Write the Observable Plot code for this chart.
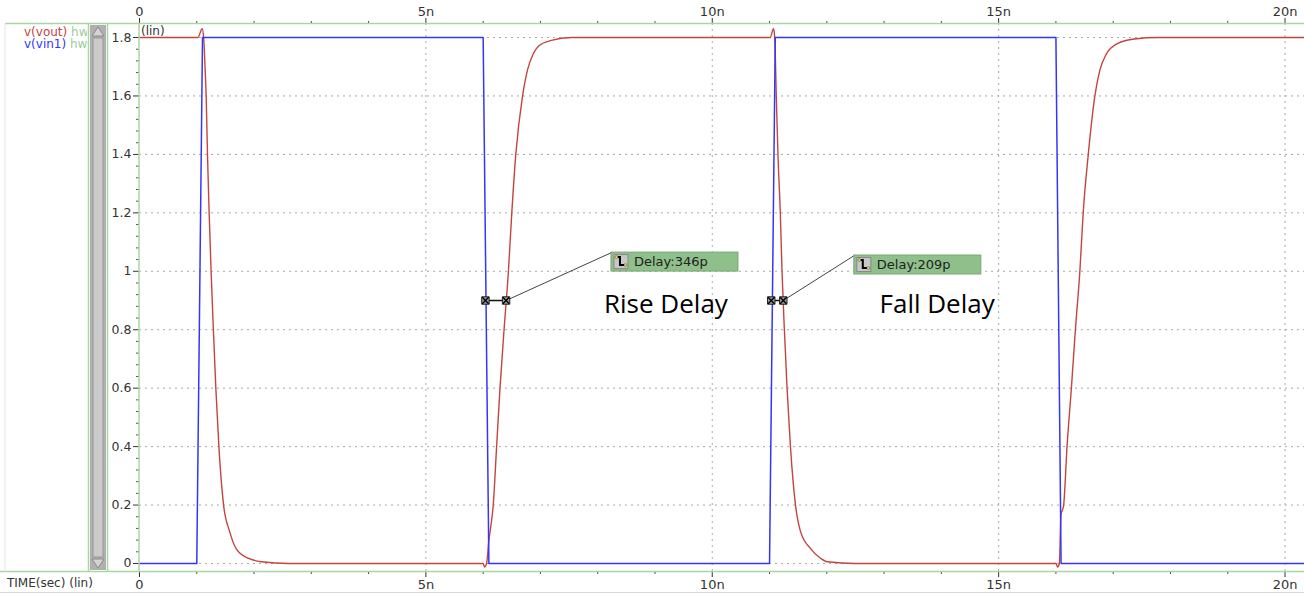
<!DOCTYPE html>
<html><head><meta charset="utf-8">
<script src="https://cdn.jsdelivr.net/npm/d3@7"></script>
<script src="https://cdn.jsdelivr.net/npm/@observablehq/plot@0.6"></script>
<style>
html,body{margin:0;padding:0;background:#fff;}
#chart{width:1304px;height:594px;overflow:hidden;position:relative;}
</style></head><body><div id="chart"></div>
<script>
// ---- data (time in ns, voltage in V) ----
const vinT = [0, 1.0, 1.1, 6.0, 6.1, 11.0, 11.1, 16.0, 16.09, 20.34];
const vinV = [0, 0, 1.8, 1.8, 0, 0, 1.8, 1.8, 0, 0];

const voutT = [0, 1.02, 1.094, 1.12, 1.146, 1.164, 1.187, 1.216, 1.25, 1.29, 1.333, 1.386, 1.468, 1.573, 1.69, 1.895, 2.13, 2.6,
  6.0, 6.024, 6.06, 6.10, 6.129, 6.176, 6.235, 6.294, 6.365, 6.441, 6.50, 6.57, 6.688, 6.776, 6.865, 6.98, 7.19, 7.54,
  11.01, 11.07, 11.09, 11.118, 11.147, 11.188, 11.218, 11.259, 11.306, 11.365, 11.453, 11.54, 11.72, 11.89, 12.01, 12.5,
  16.0, 16.03, 16.06, 16.088, 16.135, 16.194, 16.27, 16.34, 16.418, 16.476, 16.565, 16.68, 16.77, 16.87, 17.08, 17.37, 17.78, 20.34];
const voutV = [1.8, 1.8, 1.83, 1.8, 1.69, 1.60, 1.40, 1.20, 1.00, 0.80, 0.60, 0.40, 0.20, 0.11, 0.05, 0.018, 0.006, 0,
  0, -0.012, 0, 0.08, 0.12, 0.20, 0.40, 0.60, 0.80, 1.00, 1.20, 1.40, 1.60, 1.69, 1.74, 1.773, 1.79, 1.8,
  1.8, 1.83, 1.80, 1.60, 1.40, 1.20, 1.00, 0.80, 0.60, 0.40, 0.20, 0.11, 0.05, 0.018, 0.006, 0,
  0, -0.012, 0, 0.165, 0.20, 0.40, 0.60, 0.80, 1.00, 1.20, 1.40, 1.60, 1.69, 1.74, 1.78, 1.795, 1.8, 1.8];

const xMajorTicks = [0, 5, 10, 15, 20];
const xMajorLabels = ["0", "5n", "10n", "15n", "20n"];
const xMinorTicks = [1, 2, 3, 4, 6, 7, 8, 9, 11, 12, 13, 14, 16, 17, 18, 19];
const yMajorTicks = [0, 0.2, 0.4, 0.6, 0.8, 1, 1.2, 1.4, 1.6, 1.8];
const yMajorLabels = ["0", "0.2", "0.4", "0.6", "0.8", "1", "1.2", "1.4", "1.6", "1.8"];
const yMinorTicks = [0.04, 0.08, 0.12, 0.16, 0.24, 0.28, 0.32, 0.36, 0.44, 0.48, 0.52, 0.56, 0.64, 0.68, 0.72, 0.76,
  0.84, 0.88, 0.92, 0.96, 1.04, 1.08, 1.12, 1.16, 1.24, 1.28, 1.32, 1.36, 1.44, 1.48, 1.52, 1.56, 1.64, 1.68, 1.72, 1.76];

// delay measurements
const delayStartT = [6.04, 11.03];
const delayEndT = [6.40, 11.24];
const delayLevel = [0.9, 0.9];
const delayLabels = ["Delay:346p", "Delay:209p"];
const labelAnchorT = [8.24, 12.48];
const labelAnchorV = [1.064, 1.054];
const captions = ["Rise Delay", "Fall Delay"];
const captionT = [8.11, 12.92];
const captionV = [0.885, 0.885];

const seriesNames = ["v(vout)", "v(vin1)"];

// ---- tables ----
const vin = vinT.map((t, i) => ({t, v: vinV[i]}));
const vout = voutT.map((t, i) => ({t, v: voutV[i]}));
const delays = delayStartT.map((t, i) => ({t1: t, t2: delayEndT[i], v: delayLevel[i], lt: labelAnchorT[i], lv: labelAnchorV[i], label: delayLabels[i]}));
const markers = delays.flatMap(d => [{t: d.t1, v: d.v}, {t: d.t2, v: d.v}]);
const caps = captions.map((c, i) => ({t: captionT[i], v: captionV[i], text: c}));

const RED = "#c4453f", BLUE = "#3535fa", GREEN = "#a9d6a3", GRID = "#a8a8a8";
const fmtX = d => xMajorLabels[xMajorTicks.indexOf(d)];
const fmtY = d => yMajorLabels[yMajorTicks.indexOf(d)];

const chart = Plot.plot({
  width: 1304, height: 594,
  marginLeft: 139, marginRight: 0, marginTop: 23, marginBottom: 23,
  x: {domain: [0, 20.34]},
  y: {domain: [-0.0274, 1.848]},
  style: {fontFamily: "DejaVu Sans", fontSize: "12px", color: "#333", background: "#fff"},
  marks: [
    Plot.ruleY(yMajorTicks, {y: d => d, stroke: GRID, strokeDasharray: "2,4", strokeWidth: 1}),
    Plot.ruleX(xMajorTicks.slice(1), {x: d => d, stroke: GRID, strokeDasharray: "2,4", strokeWidth: 1}),
    Plot.axisX(xMajorTicks, {anchor: "top", tickSize: 6, tickPadding: 2, tickFormat: fmtX, fontSize: 13, stroke: "#333"}),
    Plot.axisX(xMinorTicks, {anchor: "top", tickSize: 3, tickFormat: () => "", stroke: "#444"}),
    Plot.axisX(xMajorTicks, {anchor: "bottom", tickSize: 6, tickPadding: 2, tickFormat: fmtX, fontSize: 13, stroke: "#333"}),
    Plot.axisX(xMinorTicks, {anchor: "bottom", tickSize: 3, tickFormat: () => "", stroke: "#444"}),
    Plot.axisY(yMajorTicks, {anchor: "left", tickSize: 6, tickPadding: 2, tickFormat: fmtY, fontSize: 12.5, stroke: "#333"}),
    Plot.axisY(yMinorTicks, {anchor: "left", tickSize: 3, tickFormat: () => "", stroke: "#555"}),
    Plot.line(vout, {x: "t", y: "v", stroke: RED, strokeWidth: 1.4, curve: "monotone-x"}),
    Plot.line(vin, {x: "t", y: "v", stroke: BLUE, strokeWidth: 1.5}),
    Plot.link(delays, {x1: "t2", y1: "v", x2: "lt", y2: "lv", stroke: "#444", strokeWidth: 1}),
    Plot.link(delays, {x1: "t1", y1: "v", x2: "t2", y2: "v", stroke: "#111", strokeWidth: 1.5}),
    Plot.dot(markers, {x: "t", y: "v", symbol: "square", r: 4.2, fill: "#9a9a9a", stroke: "#222", strokeWidth: 1}),
    Plot.dot(markers, {x: "t", y: "v", symbol: "times", r: 3, stroke: "#000", strokeWidth: 1.3}),
    Plot.text(caps, {x: "t", y: "v", text: "text", textAnchor: "start", fontSize: 26, fontFamily: "Open Sans", fill: "#000"})
  ]
});
document.getElementById("chart").appendChild(chart);

// ---- chrome & annotation boxes (using the plot's scales) ----
const svg = d3.select(chart);
const sx = chart.scale("x"), sy = chart.scale("y");

// delay label boxes
delays.forEach(d => {
  const x0 = sx.apply(d.lt), y0 = sy.apply(d.lv);
  const g = svg.append("g").attr("text-anchor", "start");
  g.append("rect").attr("x", x0).attr("y", y0).attr("width", 127).attr("height", 19)
    .attr("fill", "#8fbf8a").attr("stroke", "#78a874");
  g.append("rect").attr("x", x0 + 3).attr("y", y0 + 2.5).attr("width", 14).attr("height", 14)
    .attr("fill", "#c8c8c8").attr("stroke", "#888");
  g.append("path").attr("d", `M${x0 + 6},${y0 + 5} h3 v8 h5`).attr("fill", "none").attr("stroke", "#000").attr("stroke-width", 2);
  g.append("circle").attr("cx", x0 + 5.5).attr("cy", y0 + 5).attr("r", 1.5).attr("fill", "#e8d840").attr("stroke", "#555").attr("stroke-width", 0.5);
  g.append("circle").attr("cx", x0 + 14.5).attr("cy", y0 + 13).attr("r", 1.5).attr("fill", "#e8d840").attr("stroke", "#555").attr("stroke-width", 0.5);
  g.append("text").attr("x", x0 + 23).attr("y", y0 + 14).attr("font-size", 13).attr("text-anchor", "start")
    .attr("font-family", "DejaVu Sans").attr("fill", "#222").text(d.label);
});

// frame lines
const chrome = svg.append("g").attr("text-anchor", "start");
chrome.append("line").attr("x1", 5).attr("x2", 1304).attr("y1", 23.5).attr("y2", 23.5).attr("stroke", GREEN).attr("stroke-width", 1.5);
chrome.append("line").attr("x1", 0).attr("x2", 1304).attr("y1", 571.5).attr("y2", 571.5).attr("stroke", GREEN).attr("stroke-width", 1.5);
chrome.append("line").attr("x1", 0).attr("x2", 1304).attr("y1", 592.5).attr("y2", 592.5).attr("stroke", "#d8d8d8").attr("stroke-width", 1);
[88.5, 107.5, 139].forEach(x => chrome.append("line").attr("x1", x).attr("x2", x).attr("y1", 23).attr("y2", 572).attr("stroke", GREEN).attr("stroke-width", 1.5));
chrome.append("line").attr("x1", 5).attr("x2", 5).attr("y1", 23).attr("y2", 572).attr("stroke", "#e4e4e4").attr("stroke-width", 1);

// scrollbar
chrome.append("rect").attr("x", 90).attr("y", 25).attr("width", 16).attr("height", 545).attr("fill", "#b0b0b0");
chrome.append("rect").attr("x", 93).attr("y", 38).attr("width", 10).attr("height", 519).attr("fill", "#cacaca").attr("stroke", "#989898");
chrome.append("path").attr("d", "M98,27 L104,36 L92,36 Z").attr("fill", "#d4d4d4").attr("stroke", "#8a8a8a");
chrome.append("path").attr("d", "M98,568 L104,559 L92,559 Z").attr("fill", "#d4d4d4").attr("stroke", "#8a8a8a");

// legend (clipped at the scrollbar like the reference)
svg.append("defs").append("clipPath").attr("id", "legclip").append("rect").attr("x", 0).attr("y", 24).attr("width", 87).attr("height", 40);
const lg = chrome.append("g").attr("clip-path", "url(#legclip)").attr("font-family", "DejaVu Sans").attr("font-size", 12).attr("text-anchor", "start");
const t1 = lg.append("text").attr("x", 24).attr("y", 36).attr("text-anchor", "start");
t1.append("tspan").attr("fill", RED).text(seriesNames[0] + " ");
t1.append("tspan").attr("fill", "#9ccc96").text("hw");
const t2 = lg.append("text").attr("x", 24).attr("y", 48).attr("text-anchor", "start");
t2.append("tspan").attr("fill", BLUE).text(seriesNames[1] + " ");
t2.append("tspan").attr("fill", "#9ccc96").text("hw");

chrome.append("text").attr("x", 141).attr("y", 35).attr("text-anchor", "start").attr("font-family", "DejaVu Sans").attr("font-size", 12).attr("fill", "#333").text("(lin)");
chrome.append("text").attr("x", 7).attr("y", 587).attr("text-anchor", "start").attr("font-family", "DejaVu Sans").attr("font-size", 12).attr("fill", "#333").text("TIME(sec) (lin)");
</script></body></html>
